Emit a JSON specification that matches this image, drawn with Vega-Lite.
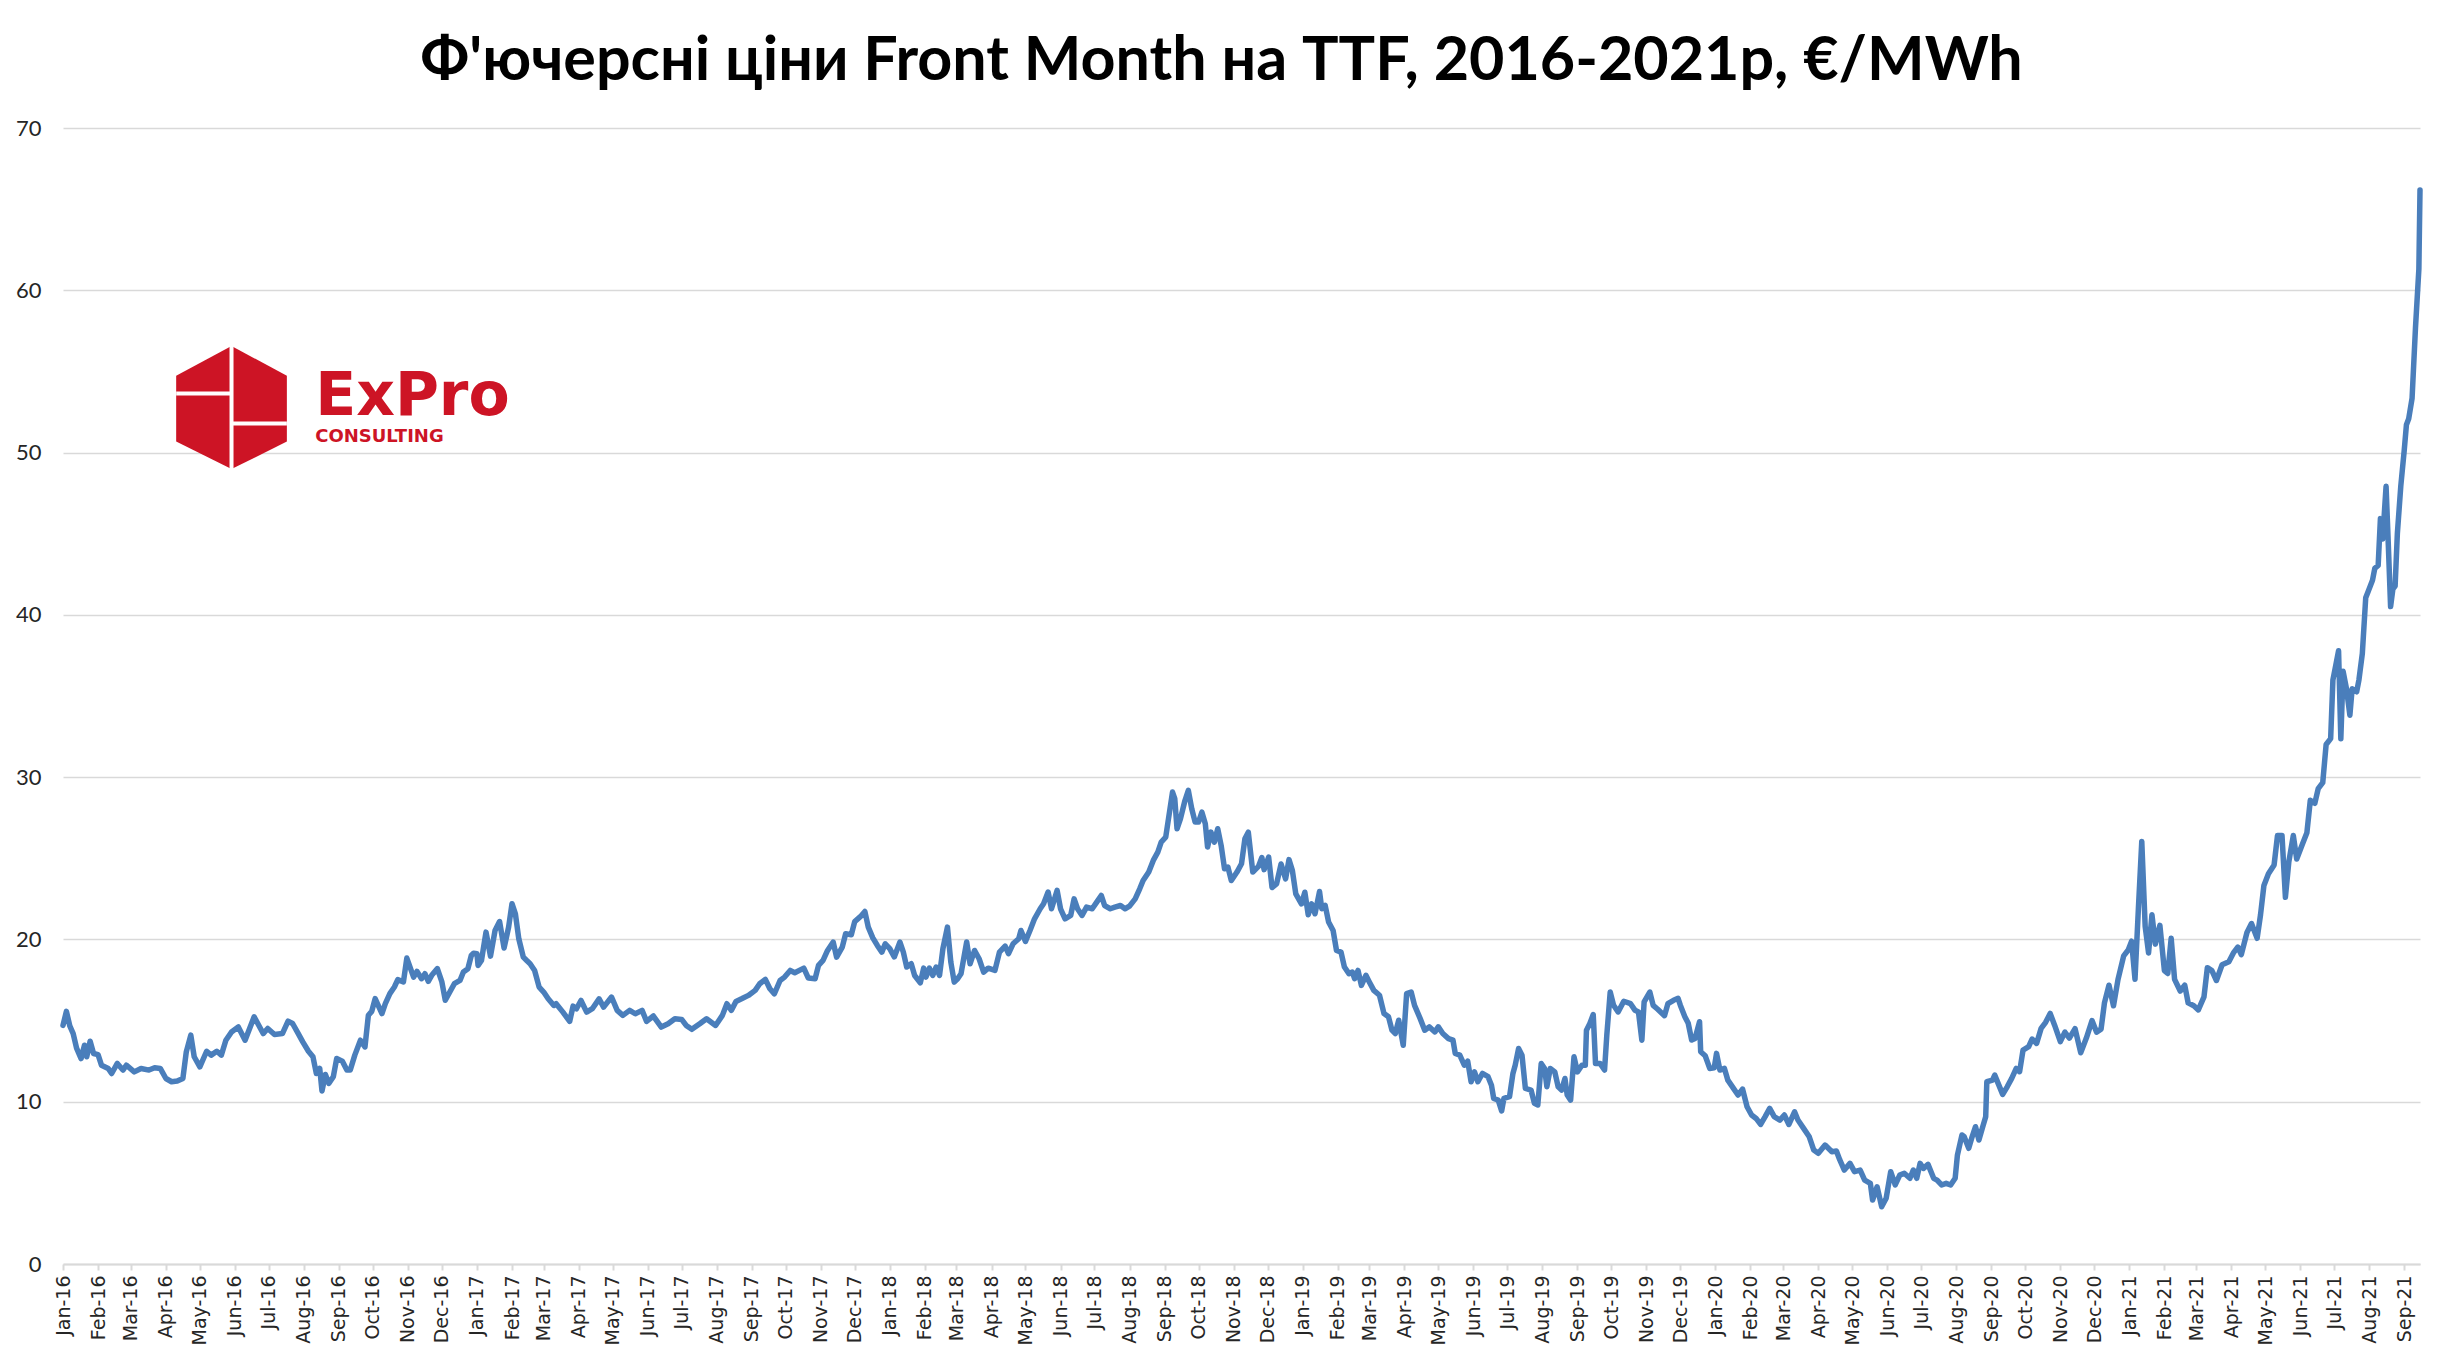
{
"$schema": "https://vega.github.io/schema/vega-lite/v6.json",
"width": 2357,
"height": 1136,
"padding": {"left": 5, "top": 31, "right": 23, "bottom": 5},
"background": "white",
"config": {"view": {"stroke": null}},
"title": {"text": "Ф'ючерсні ціни Front Month на TTF, 2016-2021р, €/MWh", "font": "Lato", "fontWeight": "bold", "fontSize": 61, "color": "#000000", "anchor": "middle", "offset": 24, "dx": -20},
"datasets": {
"ttf": [
{"date":"2016-01-01","price":14.7},{"date":"2016-01-04","price":15.57},{"date":"2016-01-07","price":14.67},{"date":"2016-01-10","price":14.2},{"date":"2016-01-13","price":13.3},{"date":"2016-01-17","price":12.66},{"date":"2016-01-20","price":13.48},{"date":"2016-01-22","price":12.77},{"date":"2016-01-25","price":13.73},{"date":"2016-01-28","price":12.97},
{"date":"2016-02-01","price":12.9},{"date":"2016-02-04","price":12.25},{"date":"2016-02-10","price":12.05},{"date":"2016-02-13","price":11.74},{"date":"2016-02-18","price":12.36},{"date":"2016-02-23","price":11.95},{"date":"2016-02-26","price":12.25},
{"date":"2016-03-04","price":11.84},{"date":"2016-03-10","price":12.05},{"date":"2016-03-17","price":11.95},{"date":"2016-03-22","price":12.09},{"date":"2016-03-27","price":12.05},
{"date":"2016-04-01","price":11.43},{"date":"2016-04-06","price":11.23},{"date":"2016-04-11","price":11.27},{"date":"2016-04-16","price":11.43},{"date":"2016-04-19","price":13.07},{"date":"2016-04-23","price":14.1},{"date":"2016-04-26","price":12.77},
{"date":"2016-05-01","price":12.15},{"date":"2016-05-07","price":13.11},{"date":"2016-05-11","price":12.87},{"date":"2016-05-16","price":13.11},{"date":"2016-05-20","price":12.87},{"date":"2016-05-24","price":13.79},{"date":"2016-05-29","price":14.3},
{"date":"2016-06-04","price":14.61},{"date":"2016-06-10","price":13.79},{"date":"2016-06-14","price":14.51},{"date":"2016-06-18","price":15.23},{"date":"2016-06-26","price":14.2},{"date":"2016-06-30","price":14.51},
{"date":"2016-07-06","price":14.14},{"date":"2016-07-13","price":14.2},{"date":"2016-07-18","price":14.96},{"date":"2016-07-22","price":14.82},{"date":"2016-07-27","price":14.2},{"date":"2016-07-31","price":13.69},
{"date":"2016-08-05","price":13.11},{"date":"2016-08-09","price":12.77},{"date":"2016-08-12","price":11.74},{"date":"2016-08-15","price":12.05},{"date":"2016-08-17","price":10.66},{"date":"2016-08-20","price":11.68},{"date":"2016-08-23","price":11.13},{"date":"2016-08-27","price":11.54},{"date":"2016-08-30","price":12.66},
{"date":"2016-09-04","price":12.5},{"date":"2016-09-08","price":11.95},{"date":"2016-09-11","price":11.95},{"date":"2016-09-15","price":12.87},{"date":"2016-09-20","price":13.79},{"date":"2016-09-24","price":13.38},{"date":"2016-09-27","price":15.33},{"date":"2016-09-30","price":15.57},
{"date":"2016-10-03","price":16.35},{"date":"2016-10-09","price":15.43},{"date":"2016-10-12","price":16.04},{"date":"2016-10-16","price":16.66},{"date":"2016-10-20","price":17.07},{"date":"2016-10-23","price":17.52},{"date":"2016-10-28","price":17.38},{"date":"2016-10-31","price":18.85},
{"date":"2016-11-06","price":17.68},{"date":"2016-11-09","price":18.03},{"date":"2016-11-13","price":17.58},{"date":"2016-11-16","price":17.89},{"date":"2016-11-19","price":17.42},{"date":"2016-11-22","price":17.79},{"date":"2016-11-27","price":18.2},
{"date":"2016-12-01","price":17.38},{"date":"2016-12-04","price":16.25},{"date":"2016-12-08","price":16.76},{"date":"2016-12-12","price":17.27},{"date":"2016-12-17","price":17.47},{"date":"2016-12-20","price":17.99},{"date":"2016-12-24","price":18.19},{"date":"2016-12-27","price":19.01},{"date":"2016-12-29","price":19.15},
{"date":"2017-01-01","price":19.12},{"date":"2017-01-02","price":18.4},{"date":"2017-01-05","price":18.7},{"date":"2017-01-09","price":20.45},{"date":"2017-01-13","price":18.97},{"date":"2017-01-17","price":20.55},{"date":"2017-01-21","price":21.1},{"date":"2017-01-25","price":19.47},{"date":"2017-01-29","price":20.76},
{"date":"2017-02-01","price":22.2},{"date":"2017-02-04","price":21.58},{"date":"2017-02-07","price":20.04},{"date":"2017-02-11","price":18.91},{"date":"2017-02-14","price":18.7},{"date":"2017-02-17","price":18.5},{"date":"2017-02-21","price":18.09},{"date":"2017-02-25","price":17.06},
{"date":"2017-03-01","price":16.76},{"date":"2017-03-05","price":16.34},{"date":"2017-03-10","price":15.93},{"date":"2017-03-12","price":16.04},{"date":"2017-03-18","price":15.52},{"date":"2017-03-24","price":14.95},{"date":"2017-03-27","price":15.89},{"date":"2017-03-30","price":15.73},
{"date":"2017-04-03","price":16.24},{"date":"2017-04-08","price":15.52},{"date":"2017-04-13","price":15.73},{"date":"2017-04-19","price":16.34},{"date":"2017-04-23","price":15.83},{"date":"2017-04-30","price":16.45},
{"date":"2017-05-05","price":15.63},{"date":"2017-05-10","price":15.32},{"date":"2017-05-16","price":15.63},{"date":"2017-05-21","price":15.42},{"date":"2017-05-27","price":15.63},{"date":"2017-05-31","price":14.95},
{"date":"2017-06-06","price":15.28},{"date":"2017-06-13","price":14.6},{"date":"2017-06-19","price":14.8},{"date":"2017-06-25","price":15.11},
{"date":"2017-07-01","price":15.07},{"date":"2017-07-05","price":14.7},{"date":"2017-07-10","price":14.46},{"date":"2017-07-17","price":14.8},{"date":"2017-07-23","price":15.11},{"date":"2017-07-31","price":14.7},
{"date":"2017-08-06","price":15.32},{"date":"2017-08-10","price":16.04},{"date":"2017-08-14","price":15.63},{"date":"2017-08-18","price":16.18},{"date":"2017-08-23","price":16.34},{"date":"2017-08-29","price":16.55},
{"date":"2017-09-04","price":16.86},{"date":"2017-09-08","price":17.27},{"date":"2017-09-13","price":17.54},{"date":"2017-09-17","price":16.96},{"date":"2017-09-21","price":16.65},{"date":"2017-09-26","price":17.47},{"date":"2017-09-30","price":17.68},
{"date":"2017-10-05","price":18.09},{"date":"2017-10-09","price":17.95},{"date":"2017-10-17","price":18.23},{"date":"2017-10-21","price":17.62},{"date":"2017-10-27","price":17.58},{"date":"2017-10-30","price":18.4},
{"date":"2017-11-03","price":18.71},{"date":"2017-11-07","price":19.32},{"date":"2017-11-12","price":19.84},{"date":"2017-11-15","price":18.91},{"date":"2017-11-20","price":19.53},{"date":"2017-11-23","price":20.35},{"date":"2017-11-28","price":20.29},
{"date":"2017-12-01","price":21.1},{"date":"2017-12-06","price":21.4},{"date":"2017-12-10","price":21.72},{"date":"2017-12-13","price":20.76},{"date":"2017-12-17","price":20.1},{"date":"2017-12-21","price":19.63},{"date":"2017-12-25","price":19.22},{"date":"2017-12-28","price":19.73},
{"date":"2018-01-01","price":19.43},{"date":"2018-01-05","price":18.92},{"date":"2018-01-10","price":19.84},{"date":"2018-01-13","price":19.22},{"date":"2018-01-16","price":18.3},{"date":"2018-01-20","price":18.5},{"date":"2018-01-23","price":17.78},{"date":"2018-01-28","price":17.33},{"date":"2018-01-31","price":18.23},
{"date":"2018-02-02","price":17.68},{"date":"2018-02-05","price":18.23},{"date":"2018-02-08","price":17.78},{"date":"2018-02-11","price":18.3},{"date":"2018-02-14","price":17.78},{"date":"2018-02-17","price":19.43},{"date":"2018-02-21","price":20.76},{"date":"2018-02-24","price":18.6},{"date":"2018-02-27","price":17.37},
{"date":"2018-03-02","price":17.58},{"date":"2018-03-05","price":17.89},{"date":"2018-03-10","price":19.84},{"date":"2018-03-13","price":18.5},{"date":"2018-03-17","price":19.32},{"date":"2018-03-21","price":18.81},{"date":"2018-03-25","price":17.99},{"date":"2018-03-29","price":18.23},
{"date":"2018-04-04","price":18.09},{"date":"2018-04-08","price":19.22},{"date":"2018-04-13","price":19.59},{"date":"2018-04-16","price":19.12},{"date":"2018-04-20","price":19.73},{"date":"2018-04-25","price":20.04},{"date":"2018-04-27","price":20.55},
{"date":"2018-05-01","price":19.88},{"date":"2018-05-05","price":20.55},{"date":"2018-05-09","price":21.27},{"date":"2018-05-14","price":21.89},{"date":"2018-05-17","price":22.2},{"date":"2018-05-21","price":22.92},{"date":"2018-05-24","price":21.89},{"date":"2018-05-29","price":23.02},
{"date":"2018-06-01","price":21.89},{"date":"2018-06-05","price":21.27},{"date":"2018-06-10","price":21.48},{"date":"2018-06-13","price":22.5},{"date":"2018-06-16","price":21.89},{"date":"2018-06-20","price":21.48},{"date":"2018-06-24","price":21.99},{"date":"2018-06-29","price":21.89},
{"date":"2018-07-03","price":22.3},{"date":"2018-07-07","price":22.71},{"date":"2018-07-10","price":22.09},{"date":"2018-07-15","price":21.89},{"date":"2018-07-19","price":21.99},{"date":"2018-07-24","price":22.09},{"date":"2018-07-28","price":21.89},
{"date":"2018-08-01","price":22.05},{"date":"2018-08-06","price":22.5},{"date":"2018-08-10","price":23.12},{"date":"2018-08-13","price":23.63},{"date":"2018-08-18","price":24.15},{"date":"2018-08-22","price":24.87},{"date":"2018-08-26","price":25.38},{"date":"2018-08-29","price":26.0},
{"date":"2018-09-02","price":26.3},{"date":"2018-09-04","price":27.23},{"date":"2018-09-08","price":29.08},{"date":"2018-09-10","price":28.67},{"date":"2018-09-12","price":26.82},{"date":"2018-09-15","price":27.43},{"date":"2018-09-19","price":28.56},{"date":"2018-09-22","price":29.18},{"date":"2018-09-25","price":28.05},{"date":"2018-09-28","price":27.23},
{"date":"2018-10-01","price":27.23},{"date":"2018-10-04","price":27.84},{"date":"2018-10-07","price":27.13},{"date":"2018-10-09","price":25.69},{"date":"2018-10-12","price":26.61},{"date":"2018-10-15","price":26.0},{"date":"2018-10-18","price":26.82},{"date":"2018-10-21","price":25.79},{"date":"2018-10-24","price":24.35},{"date":"2018-10-27","price":24.46},{"date":"2018-10-30","price":23.63},
{"date":"2018-11-04","price":24.15},{"date":"2018-11-08","price":24.66},{"date":"2018-11-11","price":26.2},{"date":"2018-11-14","price":26.61},{"date":"2018-11-18","price":24.15},{"date":"2018-11-23","price":24.5},{"date":"2018-11-26","price":25.05},{"date":"2018-11-28","price":24.3},
{"date":"2018-12-02","price":25.07},{"date":"2018-12-05","price":23.2},{"date":"2018-12-09","price":23.42},{"date":"2018-12-13","price":24.65},{"date":"2018-12-17","price":23.73},{"date":"2018-12-20","price":24.92},{"date":"2018-12-23","price":24.24},{"date":"2018-12-26","price":22.81},{"date":"2018-12-31","price":22.19},
{"date":"2019-01-03","price":22.91},{"date":"2019-01-06","price":21.52},{"date":"2019-01-09","price":22.19},{"date":"2019-01-12","price":21.58},{"date":"2019-01-16","price":22.95},{"date":"2019-01-18","price":21.89},{"date":"2019-01-21","price":22.09},{"date":"2019-01-24","price":21.07},{"date":"2019-01-28","price":20.55},{"date":"2019-01-31","price":19.32},
{"date":"2019-02-04","price":19.22},{"date":"2019-02-07","price":18.3},{"date":"2019-02-11","price":17.89},{"date":"2019-02-14","price":17.99},{"date":"2019-02-16","price":17.58},{"date":"2019-02-19","price":18.09},{"date":"2019-02-22","price":17.17},{"date":"2019-02-26","price":17.79},
{"date":"2019-03-01","price":17.38},{"date":"2019-03-05","price":16.86},{"date":"2019-03-10","price":16.56},{"date":"2019-03-14","price":15.43},{"date":"2019-03-18","price":15.23},{"date":"2019-03-21","price":14.41},{"date":"2019-03-24","price":14.2},{"date":"2019-03-27","price":15.02},{"date":"2019-03-31","price":13.48},
{"date":"2019-04-03","price":16.66},{"date":"2019-04-07","price":16.76},{"date":"2019-04-10","price":15.94},{"date":"2019-04-15","price":15.12},{"date":"2019-04-19","price":14.41},{"date":"2019-04-23","price":14.61},{"date":"2019-04-28","price":14.3},
{"date":"2019-05-01","price":14.61},{"date":"2019-05-05","price":14.2},{"date":"2019-05-10","price":13.89},{"date":"2019-05-14","price":13.79},{"date":"2019-05-16","price":12.97},{"date":"2019-05-20","price":12.87},{"date":"2019-05-24","price":12.25},{"date":"2019-05-27","price":12.5},{"date":"2019-05-30","price":11.23},
{"date":"2019-06-02","price":11.84},{"date":"2019-06-05","price":11.23},{"date":"2019-06-09","price":11.74},{"date":"2019-06-14","price":11.54},{"date":"2019-06-17","price":11.02},{"date":"2019-06-19","price":10.2},{"date":"2019-06-23","price":10.1},{"date":"2019-06-26","price":9.43},{"date":"2019-06-28","price":10.2},
{"date":"2019-07-03","price":10.31},{"date":"2019-07-06","price":11.74},{"date":"2019-07-08","price":12.25},{"date":"2019-07-11","price":13.28},{"date":"2019-07-14","price":12.87},{"date":"2019-07-17","price":10.82},{"date":"2019-07-22","price":10.72},{"date":"2019-07-25","price":9.9},{"date":"2019-07-28","price":9.8},{"date":"2019-07-31","price":12.36},
{"date":"2019-08-03","price":12.05},{"date":"2019-08-05","price":10.92},{"date":"2019-08-08","price":12.05},{"date":"2019-08-12","price":11.84},{"date":"2019-08-15","price":10.92},{"date":"2019-08-18","price":10.72},{"date":"2019-08-21","price":11.43},{"date":"2019-08-23","price":10.41},{"date":"2019-08-26","price":10.1},{"date":"2019-08-29","price":12.77},
{"date":"2019-09-01","price":11.84},{"date":"2019-09-05","price":12.25},{"date":"2019-09-08","price":12.25},{"date":"2019-09-09","price":14.41},{"date":"2019-09-12","price":14.82},{"date":"2019-09-15","price":15.37},{"date":"2019-09-17","price":12.36},{"date":"2019-09-21","price":12.36},{"date":"2019-09-25","price":11.95},{"date":"2019-09-27","price":14.1},{"date":"2019-09-30","price":16.76},
{"date":"2019-10-03","price":15.94},{"date":"2019-10-07","price":15.53},{"date":"2019-10-12","price":16.19},{"date":"2019-10-18","price":16.04},{"date":"2019-10-22","price":15.63},{"date":"2019-10-25","price":15.53},{"date":"2019-10-28","price":13.79},{"date":"2019-10-30","price":16.15},
{"date":"2019-11-04","price":16.76},{"date":"2019-11-07","price":15.94},{"date":"2019-11-11","price":15.7},{"date":"2019-11-17","price":15.3},{"date":"2019-11-20","price":16.04},{"date":"2019-11-25","price":16.25},{"date":"2019-11-29","price":16.37},
{"date":"2019-12-01","price":15.95},{"date":"2019-12-05","price":15.24},{"date":"2019-12-08","price":14.83},{"date":"2019-12-11","price":13.8},{"date":"2019-12-14","price":13.9},{"date":"2019-12-18","price":14.93},{"date":"2019-12-19","price":13.08},{"date":"2019-12-23","price":12.83},{"date":"2019-12-27","price":12.05},{"date":"2019-12-31","price":12.09},
{"date":"2020-01-02","price":12.98},{"date":"2020-01-05","price":11.95},{"date":"2020-01-09","price":12.05},{"date":"2020-01-12","price":11.33},{"date":"2020-01-17","price":10.82},{"date":"2020-01-21","price":10.41},{"date":"2020-01-25","price":10.78},{"date":"2020-01-29","price":9.69},
{"date":"2020-02-02","price":9.18},{"date":"2020-02-06","price":8.97},{"date":"2020-02-10","price":8.6},{"date":"2020-02-14","price":9.08},{"date":"2020-02-18","price":9.59},{"date":"2020-02-22","price":9.08},{"date":"2020-02-27","price":8.87},
{"date":"2020-03-02","price":9.18},{"date":"2020-03-06","price":8.6},{"date":"2020-03-11","price":9.38},{"date":"2020-03-14","price":8.87},{"date":"2020-03-19","price":8.36},{"date":"2020-03-24","price":7.84},{"date":"2020-03-28","price":7.02},
{"date":"2020-04-01","price":6.82},{"date":"2020-04-07","price":7.33},{"date":"2020-04-13","price":6.92},{"date":"2020-04-17","price":6.96},{"date":"2020-04-20","price":6.41},{"date":"2020-04-24","price":5.79},{"date":"2020-04-29","price":6.2},
{"date":"2020-05-03","price":5.69},{"date":"2020-05-08","price":5.79},{"date":"2020-05-12","price":5.17},{"date":"2020-05-17","price":4.97},{"date":"2020-05-19","price":3.94},{"date":"2020-05-23","price":4.76},{"date":"2020-05-27","price":3.53},{"date":"2020-05-31","price":4.05},
{"date":"2020-06-04","price":5.69},{"date":"2020-06-08","price":4.87},{"date":"2020-06-12","price":5.48},{"date":"2020-06-16","price":5.59},{"date":"2020-06-21","price":5.28},{"date":"2020-06-24","price":5.79},{"date":"2020-06-27","price":5.28},{"date":"2020-06-30","price":6.2},
{"date":"2020-07-03","price":5.89},{"date":"2020-07-07","price":6.14},{"date":"2020-07-12","price":5.28},{"date":"2020-07-15","price":5.17},{"date":"2020-07-19","price":4.87},{"date":"2020-07-23","price":4.97},{"date":"2020-07-27","price":4.87},{"date":"2020-07-31","price":5.28},
{"date":"2020-08-02","price":6.71},{"date":"2020-08-06","price":7.95},{"date":"2020-08-08","price":7.84},{"date":"2020-08-12","price":7.13},{"date":"2020-08-15","price":7.84},{"date":"2020-08-18","price":8.46},{"date":"2020-08-21","price":7.64},{"date":"2020-08-24","price":8.36},{"date":"2020-08-27","price":9.08},{"date":"2020-08-28","price":11.23},
{"date":"2020-09-02","price":11.33},{"date":"2020-09-04","price":11.64},{"date":"2020-09-07","price":11.13},{"date":"2020-09-11","price":10.45},{"date":"2020-09-15","price":10.92},{"date":"2020-09-19","price":11.44},{"date":"2020-09-23","price":12.05},{"date":"2020-09-26","price":11.85},{"date":"2020-09-29","price":13.18},
{"date":"2020-10-04","price":13.39},{"date":"2020-10-07","price":13.86},{"date":"2020-10-11","price":13.59},{"date":"2020-10-15","price":14.52},{"date":"2020-10-19","price":14.89},{"date":"2020-10-23","price":15.44},{"date":"2020-10-27","price":14.7},
{"date":"2020-11-01","price":13.7},{"date":"2020-11-05","price":14.29},{"date":"2020-11-09","price":13.92},{"date":"2020-11-14","price":14.5},{"date":"2020-11-19","price":13.02},{"date":"2020-11-24","price":13.92},{"date":"2020-11-29","price":15.0},
{"date":"2020-12-03","price":14.29},{"date":"2020-12-07","price":14.47},{"date":"2020-12-10","price":16.09},{"date":"2020-12-14","price":17.18},{"date":"2020-12-18","price":15.91},{"date":"2020-12-22","price":17.54},{"date":"2020-12-27","price":18.99},{"date":"2020-12-31","price":19.35},
{"date":"2021-01-03","price":19.89},{"date":"2021-01-06","price":17.54},{"date":"2021-01-09","price":21.88},{"date":"2021-01-12","price":26.04},{"date":"2021-01-15","price":20.8},{"date":"2021-01-18","price":19.17},{"date":"2021-01-21","price":21.52},{"date":"2021-01-24","price":19.71},{"date":"2021-01-28","price":20.87},
{"date":"2021-02-01","price":18.08},{"date":"2021-02-04","price":17.9},{"date":"2021-02-07","price":20.07},{"date":"2021-02-10","price":17.54},{"date":"2021-02-15","price":16.82},{"date":"2021-02-19","price":17.18},{"date":"2021-02-22","price":16.09},{"date":"2021-02-27","price":15.91},
{"date":"2021-03-03","price":15.66},{"date":"2021-03-08","price":16.46},{"date":"2021-03-11","price":18.26},{"date":"2021-03-15","price":18.08},{"date":"2021-03-19","price":17.47},{"date":"2021-03-24","price":18.44},{"date":"2021-03-30","price":18.63},
{"date":"2021-04-03","price":19.17},{"date":"2021-04-07","price":19.53},{"date":"2021-04-10","price":19.06},{"date":"2021-04-15","price":20.43},{"date":"2021-04-19","price":20.98},{"date":"2021-04-24","price":20.07},{"date":"2021-04-27","price":21.52},{"date":"2021-04-30","price":23.33},
{"date":"2021-05-04","price":24.05},{"date":"2021-05-09","price":24.59},{"date":"2021-05-12","price":26.4},{"date":"2021-05-16","price":26.4},{"date":"2021-05-19","price":22.6},{"date":"2021-05-22","price":24.77},{"date":"2021-05-26","price":26.4},{"date":"2021-05-29","price":24.95},
{"date":"2021-06-03","price":25.86},{"date":"2021-06-07","price":26.58},{"date":"2021-06-10","price":28.57},{"date":"2021-06-14","price":28.39},{"date":"2021-06-17","price":29.29},{"date":"2021-06-21","price":29.66},{"date":"2021-06-24","price":32.01},{"date":"2021-06-28","price":32.37},{"date":"2021-06-30","price":35.99},
{"date":"2021-07-03","price":37.07},{"date":"2021-07-05","price":37.79},{"date":"2021-07-07","price":32.37},{"date":"2021-07-09","price":36.53},{"date":"2021-07-12","price":35.44},{"date":"2021-07-15","price":33.82},{"date":"2021-07-17","price":35.44},{"date":"2021-07-21","price":35.26},{"date":"2021-07-23","price":35.99},{"date":"2021-07-26","price":37.61},{"date":"2021-07-29","price":41.05},{"date":"2021-07-31","price":41.41},
{"date":"2021-08-04","price":42.13},{"date":"2021-08-06","price":42.86},{"date":"2021-08-09","price":43.04},{"date":"2021-08-11","price":45.93},{"date":"2021-08-13","price":44.67},{"date":"2021-08-16","price":47.92},{"date":"2021-08-18","price":44.3},{"date":"2021-08-20","price":40.51},{"date":"2021-08-22","price":41.59},{"date":"2021-08-24","price":41.77},{"date":"2021-08-26","price":45.03},{"date":"2021-08-29","price":47.92},
{"date":"2021-09-01","price":50.09},{"date":"2021-09-03","price":51.72},{"date":"2021-09-05","price":52.08},{"date":"2021-09-08","price":53.35},{"date":"2021-09-11","price":57.69},{"date":"2021-09-14","price":61.3},{"date":"2021-09-15","price":66.18}
]
},
"layer": [
{
"data": {"name": "ttf"},
"mark": {"type": "line", "color": "#4A7EBB", "strokeWidth": 5.5, "strokeJoin": "round", "strokeCap": "round"},
"encoding": {
"x": {"field": "date", "type": "temporal",
"scale": {"type": "utc", "domain": [{"year": 2016, "month": 1, "date": 1, "utc": true}, {"year": 2021, "month": 9, "date": 15, "utc": true}]},
"axis": {"title": null, "format": "%b-%y", "tickCount": {"interval": "month", "step": 1}, "labelAngle": -90, "labelFont": "DejaVu Sans", "labelFontSize": 19, "labelColor": "#262626", "labelOverlap": false, "labelFlush": false, "labelPadding": 5, "tickSize": 6, "tickColor": "#D9D9D9", "tickWidth": 2, "domainColor": "#D9D9D9", "domainWidth": 2, "grid": false}},
"y": {"field": "price", "type": "quantitative",
"scale": {"domain": [0, 70], "nice": false},
"axis": {"title": null, "values": [0, 10, 20, 30, 40, 50, 60, 70], "labelFont": "Lato", "labelFontSize": 22, "labelColor": "#262626", "domain": false, "ticks": false, "tickSize": 0, "gridColor": "#D9D9D9", "gridWidth": 1.5, "labelPadding": 22, "minExtent": 58, "maxExtent": 58}}
}
},
{
"data": {"values": [{}]},
"mark": {"type": "point", "shape": "M0,-1L0.9,-0.52L0.9,0.55L0,1L-0.9,0.55L-0.9,-0.52Z", "filled": true, "fill": "#CD1425", "opacity": 1, "size": 15129, "strokeWidth": 0},
"encoding": {
"x": {"datum": {"year": 2016, "month": 5, "date": 29, "utc": true}, "type": "temporal"},
"y": {"datum": 52.77, "type": "quantitative"}
}
},
{
"data": {"values": [{}]},
"mark": {"type": "point", "shape": "M0,-1L0,1M-0.9,-0.23L0,-0.23M0,0.26L0.9,0.26", "filled": false, "stroke": "#FFFFFF", "strokeWidth": 4, "opacity": 1, "size": 15129},
"encoding": {
"x": {"datum": {"year": 2016, "month": 5, "date": 29, "utc": true}, "type": "temporal"},
"y": {"datum": 52.77, "type": "quantitative"}
}
},
{
"data": {"values": [{}]},
"mark": {"type": "text", "text": "ExPro", "font": "DejaVu Sans", "fontWeight": "bold", "fontSize": 60, "color": "#CD1425", "align": "left", "baseline": "alphabetic"},
"encoding": {
"x": {"datum": {"year": 2016, "month": 8, "date": 11, "utc": true}, "type": "temporal"},
"y": {"datum": 52.34, "type": "quantitative"}
}
},
{
"data": {"values": [{}]},
"mark": {"type": "text", "text": "CONSULTING", "font": "DejaVu Sans", "fontWeight": "bold", "fontSize": 18, "color": "#CD1425", "align": "left", "baseline": "alphabetic"},
"encoding": {
"x": {"datum": {"year": 2016, "month": 8, "date": 11, "utc": true}, "type": "temporal"},
"y": {"datum": 50.68, "type": "quantitative"}
}
}
]
}
